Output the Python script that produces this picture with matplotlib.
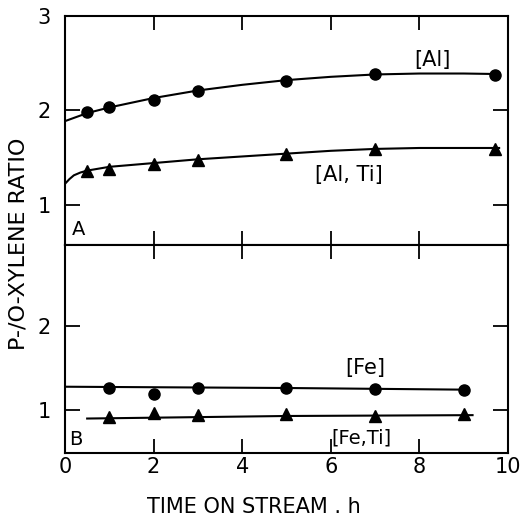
import matplotlib
matplotlib.use('Agg')
import matplotlib.pyplot as plt

plt.rcParams['font.size'] = 14
plt.rcParams['font.family'] = 'DejaVu Sans'

# panel A: Al and Al,Ti
al_x = [0.5, 1, 2, 3, 5, 7, 9.7]
al_y = [1.98, 2.03, 2.11, 2.20, 2.31, 2.39, 2.37]
alti_x = [0.5, 1, 2, 3, 5, 7, 9.7]
alti_y = [1.36, 1.38, 1.43, 1.47, 1.54, 1.59, 1.59]

# hand-drawn fit curves
al_fit_x = [0, 0.5, 1, 2, 3, 4, 5, 6, 7, 8, 9, 9.7]
al_fit_y = [1.885, 1.97, 2.03, 2.13, 2.21, 2.27, 2.32, 2.355, 2.38, 2.39, 2.39, 2.385]
alti_fit_x = [0, 0.1, 0.2, 0.35, 0.5, 1, 2, 3, 4, 5, 6, 7, 8, 9, 9.8]
alti_fit_y = [1.22, 1.27, 1.31, 1.34, 1.36, 1.40, 1.44, 1.48, 1.51, 1.54, 1.57, 1.59, 1.60, 1.60, 1.60]

# panel B: Fe and Fe,Ti
fe_x = [1, 2, 3, 5, 7, 9]
fe_y = [1.27, 1.20, 1.26, 1.27, 1.25, 1.24]
feti_x = [1, 2, 3, 5, 7, 9]
feti_y = [0.92, 0.965, 0.95, 0.955, 0.94, 0.955]

fe_fit_x = [0, 5, 9.1]
fe_fit_y = [1.28, 1.265, 1.245]
feti_fit_x = [0.5, 5, 9.2]
feti_fit_y = [0.905, 0.935, 0.945]

fig = plt.figure(figsize=(5.23, 5.17), dpi=100)
axA = fig.add_axes([0.1243, 0.526, 0.847, 0.443])
axB = fig.add_axes([0.1243, 0.124, 0.847, 0.402])

for ax in (axA, axB):
    for s in ax.spines.values():
        s.set_linewidth(1.5)
    ax.set_xlim(0, 10)
    ax.set_xticks([0, 2, 4, 6, 8, 10])
    ax.tick_params(axis='both', direction='in', top=True, right=True,
                   width=1.3, labelsize=15)
    ax.tick_params(axis='x', length=10, pad=3)
    ax.tick_params(axis='y', length=11, pad=10)

axA.tick_params(axis='x', labelbottom=False)
axA.set_ylim(0.57, 3.0)
axA.set_yticks([1, 2, 3])
axB.set_ylim(0.5, 2.95)
axB.set_yticks([1, 2])

axA.plot(al_fit_x, al_fit_y, color='black', lw=1.5)
axA.plot(alti_fit_x, alti_fit_y, color='black', lw=1.5)
axA.plot(al_x, al_y, 'o', color='black', ms=8)
axA.plot(alti_x, alti_y, '^', color='black', ms=8)

axB.plot(fe_fit_x, fe_fit_y, color='black', lw=1.5)
axB.plot(feti_fit_x, feti_fit_y, color='black', lw=1.5)
axB.plot(fe_x, fe_y, 'o', color='black', ms=8)
axB.plot(feti_x, feti_y, '^', color='black', ms=8)

axA.text(8.3, 2.53, '[Al]', ha='center', va='center', fontsize=15)
axA.text(6.4, 1.31, '[Al, Ti]', ha='center', va='center', fontsize=15)
axA.text(0.3, 0.73, 'A', ha='center', va='center', fontsize=14)
axB.text(6.78, 1.5, '[Fe]', ha='center', va='center', fontsize=15)
axB.text(6.7, 0.68, '[Fe,Ti]', ha='center', va='center', fontsize=14)
axB.text(0.25, 0.66, 'B', ha='center', va='center', fontsize=14)

fig.text(0.486, 0.0, 'TIME ON STREAM . h', ha='center', va='bottom', fontsize=15)
fig.text(0.036, 0.528, 'P-/O-XYLENE RATIO', ha='center', va='center',
         rotation=90, fontsize=16)

fig.savefig('out.png', dpi=100)
